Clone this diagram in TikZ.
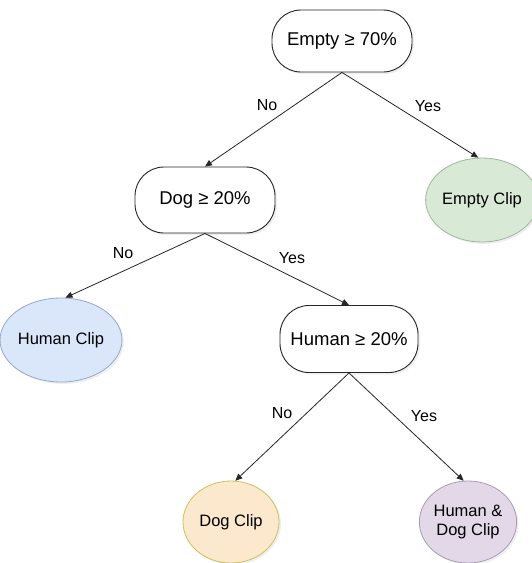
\documentclass[tikz,border=0pt]{standalone}
\usepackage{fontspec}
\setmainfont{Liberation Sans}
\usetikzlibrary{arrows.meta,shadows,shapes.geometric}
\definecolor{egfill}{HTML}{D8E9D6}
\definecolor{egdraw}{HTML}{9DB89B}
\definecolor{hcfill}{HTML}{DAE6FA}
\definecolor{hcdraw}{HTML}{93A9CC}
\definecolor{dcfill}{HTML}{FCE8CC}
\definecolor{dcdraw}{HTML}{C9C25E}
\definecolor{hdfill}{HTML}{E2D8E8}
\definecolor{hddraw}{HTML}{A99CB2}
\definecolor{edgecol}{HTML}{262626}
\tikzset{
  decbox/.style={draw=edgecol, line width=0.9pt, fill=white, rounded corners=29pt,
    minimum width=#1, inner sep=0pt, font=\fontsize{18.5}{22}\selectfont,
    drop shadow={opacity=0.12, shadow xshift=2pt, shadow yshift=-2pt}},
  clipnode/.style={ellipse, line width=0.8pt, minimum width=96pt, minimum height=84pt,
    inner sep=0pt, align=center, font=\fontsize{16.5}{19.5}\selectfont,
    drop shadow={opacity=0.12, shadow xshift=2pt, shadow yshift=-2pt}},
  elabel/.style={font=\fontsize{16}{19}\selectfont, inner sep=0pt},
  conn/.style={draw=edgecol, line width=0.8pt, -{Triangle[length=7pt,width=6pt]}}
}
\begin{document}
\begin{tikzpicture}[x=1pt,y=-1pt]
\useasboundingbox (0,0) rectangle (531,563);
\fill[white] (0,0) rectangle (531,563);
% decision nodes
\node[decbox=140pt, minimum height=62pt] (empty) at (342,41) {Empty ≥ 70\%};
\node[decbox=140pt, minimum height=66pt] (dog) at (205,200) {Dog ≥ 20\%};
\node[decbox=138pt, minimum height=67pt] (human) at (349,339) {Human ≥ 20\%};
% leaf nodes
\node[clipnode, fill=egfill, draw=egdraw, minimum width=94pt] (eclip) at (482,200) {Empty Clip};
\node[clipnode, fill=hcfill, draw=hcdraw] (hclip) at (61,340) {Human Clip};
\node[clipnode, fill=dcfill, draw=dcdraw, minimum height=82pt] (dclip) at (231,522) {Dog Clip};
\node[clipnode, fill=hdfill, draw=hddraw, minimum height=82pt] (hdclip) at (468,522) {Human \&\\Dog Clip};
% connectors
\draw[conn] (empty.south) -- (dog.north);
\draw[conn] (empty.south) -- (eclip.95);
\draw[conn] (dog.south) -- (hclip.84);
\draw[conn] (dog.south) -- (human.north);
\draw[conn] (human.south) -- (dclip.84);
\draw[conn] (human.south) -- (hdclip.96);
% edge labels
\node[elabel] (l1) at (267,105) {No};
\node[elabel] (l2) at (428,106) {Yes};
\node[elabel] (l3) at (123,253) {No};
\node[elabel] (l4) at (292,258) {Yes};
\node[elabel] (l5) at (282,413) {No};
\node[elabel] (l6) at (424,416) {Yes};
\end{tikzpicture}
\end{document}
